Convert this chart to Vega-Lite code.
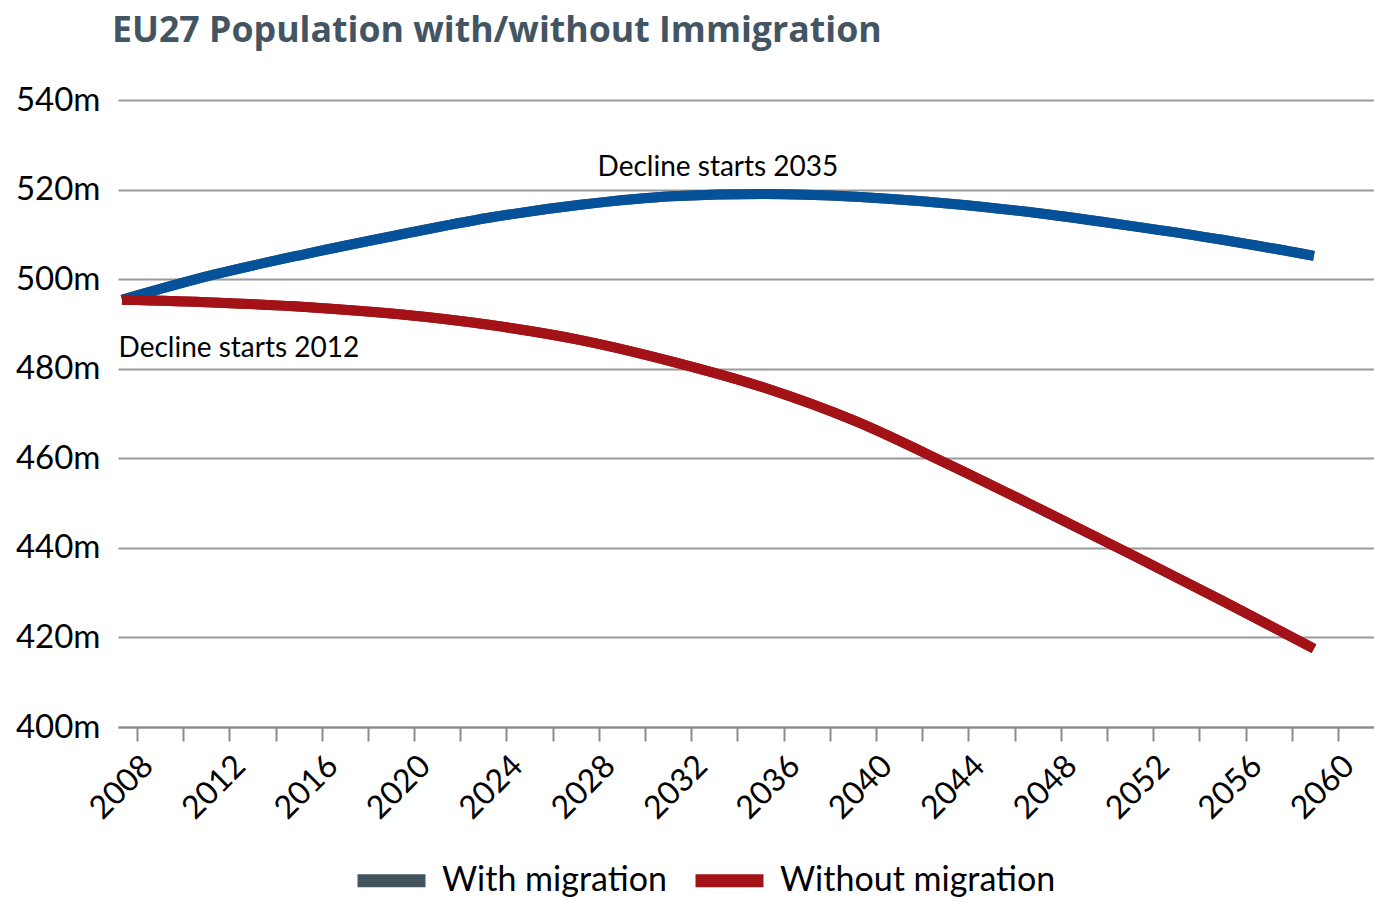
{
  "$schema": "https://vega.github.io/schema/vega-lite/v6.json",
  "width": 1256,
  "height": 627,
  "autosize": {"type": "none"},
  "padding": {"left": 118, "top": 100, "right": 0, "bottom": 175},
  "background": "white",
  "title": {
    "text": "EU27 Population with/without Immigration",
    "anchor": "start",
    "frame": "group",
    "font": "Open Sans",
    "fontSize": 35.7,
    "fontWeight": "bold",
    "color": "#435563",
    "offset": 34,
    "dx": -6
  },
  "config": {
    "view": {"stroke": null}
  },
  "datasets": {
    "pop": [
      {"series": "With migration", "year": 2008, "value": 495.4},
      {"series": "With migration", "year": 2012, "value": 501.0},
      {"series": "With migration", "year": 2016, "value": 505.6},
      {"series": "With migration", "year": 2020, "value": 509.8},
      {"series": "With migration", "year": 2024, "value": 513.7},
      {"series": "With migration", "year": 2028, "value": 516.6},
      {"series": "With migration", "year": 2032, "value": 518.5},
      {"series": "With migration", "year": 2036, "value": 519.0},
      {"series": "With migration", "year": 2040, "value": 518.4},
      {"series": "With migration", "year": 2044, "value": 516.9},
      {"series": "With migration", "year": 2048, "value": 514.7},
      {"series": "With migration", "year": 2052, "value": 511.9},
      {"series": "With migration", "year": 2056, "value": 508.8},
      {"series": "With migration", "year": 2060, "value": 505.2},
      {"series": "Without migration", "year": 2008, "value": 495.4},
      {"series": "Without migration", "year": 2012, "value": 494.8},
      {"series": "Without migration", "year": 2016, "value": 493.8},
      {"series": "Without migration", "year": 2020, "value": 492.2},
      {"series": "Without migration", "year": 2024, "value": 489.8},
      {"series": "Without migration", "year": 2028, "value": 486.4},
      {"series": "Without migration", "year": 2032, "value": 481.6},
      {"series": "Without migration", "year": 2036, "value": 475.8},
      {"series": "Without migration", "year": 2040, "value": 468.3},
      {"series": "Without migration", "year": 2044, "value": 458.8},
      {"series": "Without migration", "year": 2048, "value": 448.8},
      {"series": "Without migration", "year": 2052, "value": 438.6},
      {"series": "Without migration", "year": 2056, "value": 428.2},
      {"series": "Without migration", "year": 2060, "value": 417.5}
    ],
    "notes": [
      {"year": 2034, "value": 524.8, "label": "Decline starts 2035"},
      {"year": 2013.1, "value": 484.3, "label": "Decline starts 2012"}
    ],
    "years": [
      {"year": 2008}, {"year": 2060}
    ]
  },
  "layer": [
    {
      "data": {"name": "years"},
      "mark": {"type": "point", "opacity": 0},
      "encoding": {
        "x": {
          "field": "year",
          "type": "quantitative",
          "scale": {"domain": [2007.18, 2061.56], "nice": false, "zero": false},
          "axis": {
            "values": [2008, 2010, 2012, 2014, 2016, 2018, 2020, 2022, 2024, 2026, 2028, 2030, 2032, 2034, 2036, 2038, 2040, 2042, 2044, 2046, 2048, 2050, 2052, 2054, 2056, 2058, 2060],
            "format": "d",
            "labelExpr": "datum.value % 4 == 0 ? datum.label : ''",
            "labelAngle": -45,
            "labelFont": "Lato",
            "labelFontSize": 32,
            "labelColor": "black",
            "labelOverlap": false,
            "labelFlush": false,
            "labelBound": false,
            "labelPadding": 9,
            "tickColor": "#8c8c8c",
            "tickSize": 14,
            "tickWidth": 2,
            "domainColor": "#8c8c8c",
            "domainWidth": 2,
            "grid": false,
            "title": null
          }
        }
      }
    },
    {
      "layer": [
        {
          "data": {"name": "pop"},
          "mark": {"type": "line", "strokeWidth": 10, "interpolate": "monotone", "strokeCap": "butt"},
          "encoding": {
            "x": {
              "field": "year",
              "type": "quantitative",
              "scale": {"domain": [2007.825, 2062.62], "nice": false, "zero": false},
              "axis": null
            },
            "y": {
              "field": "value",
              "type": "quantitative",
              "scale": {"domain": [400, 540], "nice": false, "zero": false},
              "axis": {
                "values": [400, 420, 440, 460, 480, 500, 520, 540],
                "format": "d",
                "labelExpr": "datum.label + 'm'",
                "labelFont": "Lato",
                "labelFontSize": 33,
                "labelColor": "black",
                "labelPadding": 18,
                "domain": false,
                "ticks": false,
                "grid": true,
                "gridColor": "#999999",
                "gridWidth": 2,
                "title": null
              }
            },
            "color": {
              "field": "series",
              "type": "nominal",
              "scale": {"domain": ["With migration", "Without migration"], "range": ["#44545F", "#A31217"]},
              "legend": {
                "orient": "none",
                "legendX": 233,
                "legendY": 740,
                "direction": "horizontal",
                "symbolType": "stroke",
                "symbolSize": 4624,
                "symbolStrokeWidth": 13,
                "labelFont": "Lato",
                "labelFontSize": 34,
                "labelColor": "black",
                "labelLimit": 500,
                "labelOffset": 10,
                "columnPadding": 2,
                "title": null
              }
            }
          }
        },
        {
          "data": {"name": "pop"},
          "mark": {"type": "line", "strokeWidth": 10, "interpolate": "monotone", "strokeCap": "butt"},
          "encoding": {
            "x": {"field": "year", "type": "quantitative"},
            "y": {"field": "value", "type": "quantitative"},
            "color": {
              "field": "series",
              "type": "nominal",
              "scale": {"domain": ["With migration", "Without migration"], "range": ["#06529A", "#A31217"]},
              "legend": null
            }
          }
        },
        {
          "data": {"name": "notes"},
          "mark": {"type": "text", "font": "Lato", "fontSize": 28, "color": "black", "align": "center", "baseline": "middle"},
          "encoding": {
            "x": {"field": "year", "type": "quantitative"},
            "y": {"field": "value", "type": "quantitative"},
            "text": {"field": "label", "type": "nominal"}
          }
        }
      ],
      "resolve": {"scale": {"color": "independent"}, "legend": {"color": "independent"}}
    }
  ],
  "resolve": {"scale": {"x": "independent"}}
}
